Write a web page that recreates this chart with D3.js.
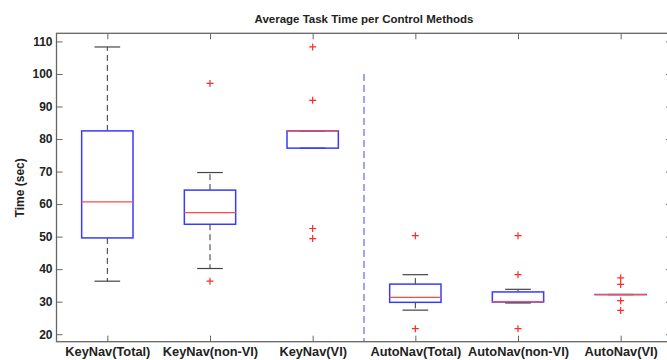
<!DOCTYPE html>
<meta charset="utf-8">
<title>Average Task Time per Control Methods</title>
<style>
body {
  margin: 0;
  background: #fff;
}
text {
  font-family: "Liberation Sans", Arial, sans-serif;
  fill: #222;
}
.axis path, .axis line {
  stroke: #666;
}
.axis text {
  font-size: 12px;
  font-weight: bold;
}
.xaxis text {
  font-size: 12.8px;
}
</style>
<body>
<script src="https://cdn.jsdelivr.net/npm/d3@7/dist/d3.min.js"></script>
<script>

var categories = ["KeyNav(Total)", "KeyNav(non-VI)", "KeyNav(VI)", "AutoNav(Total)", "AutoNav(non-VI)", "AutoNav(VI)"];
var q1 = [49.6, 53.8, 77.2, 29.8, 29.9, 32.2];
var medians = [60.7, 57.4, 82.5, 31.3, 30.0, 32.2];
var q3 = [82.5, 64.3, 82.5, 35.4, 33.0, 32.2];
var whiskerLow = [36.3, 40.2, 77.2, 27.4, 29.6, 32.2];
var whiskerHigh = [108.3, 69.7, 82.5, 38.3, 33.8, 32.2];
var outliers = [[], [97.1, 36.3], [108.3, 91.9, 52.5, 49.4], [50.3, 21.7], [50.3, 38.3, 21.7], [37.3, 35.3, 30.3, 27.3]];
var yTicks = [20, 30, 40, 50, 60, 70, 80, 90, 100, 110];
var separator = {pos: 3.5, from: 17.7, to: 100};

var w = 667,
    h = 360;

var x = d3.scaleLinear().domain([0.5, 6.5]).range([56, 672]);
var y = d3.scaleLinear().domain([17.7, 112.5]).range([341.7, 33.3]);

var svg = d3.select("body").append("svg")
    .attr("width", w)
    .attr("height", h);

// frame
svg.append("rect")
    .attr("x", x(0.5) + 0.5)
    .attr("y", y(112.5))
    .attr("width", x(6.5) - x(0.5))
    .attr("height", y(17.7) - y(112.5))
    .style("fill", "none")
    .style("stroke", "#666")
    .style("stroke-width", 1.3);

var pos = categories.map(function(d, i) { return i + 1; });

svg.append("g")
    .attr("class", "axis")
    .attr("transform", "translate(" + (x(0.5) + 0.5) + ",0)")
    .call(d3.axisLeft(y).tickValues(yTicks).tickSizeInner(-6).tickSizeOuter(0).tickPadding(4))
    .call(function(g) { g.select(".domain").remove(); });

svg.append("g")
    .attr("class", "axis")
    .attr("transform", "translate(" + x(6.5) + ",0)")
    .call(d3.axisRight(y).tickValues(yTicks).tickSizeInner(-6).tickSizeOuter(0).tickFormat(""))
    .call(function(g) { g.select(".domain").remove(); });

svg.append("g")
    .attr("class", "axis xaxis")
    .attr("transform", "translate(0," + y(17.7) + ")")
    .call(d3.axisBottom(x).tickValues(pos).tickSizeInner(-6).tickSizeOuter(0).tickPadding(5)
      .tickFormat(function(d) { return categories[d - 1]; }))
    .call(function(g) { g.select(".domain").remove(); });

svg.append("g")
    .attr("class", "axis")
    .attr("transform", "translate(0," + y(112.5) + ")")
    .call(d3.axisTop(x).tickValues(pos).tickSizeInner(-6).tickSizeOuter(0).tickFormat(""))
    .call(function(g) { g.select(".domain").remove(); });

// separator
svg.append("line")
    .attr("x1", x(separator.pos)).attr("x2", x(separator.pos))
    .attr("y1", y(separator.to)).attr("y2", y(separator.from))
    .style("stroke", "#4444ff")
    .style("stroke-width", 1)
    .style("stroke-dasharray", "7,4");

var bw = x(1.25) - x(1);
var cw = x(1.125) - x(1);

var g = svg.selectAll(".box")
    .data(pos)
  .enter().append("g")
    .attr("class", "box");

// whiskers
g.append("line")
    .attr("x1", function(d) { return x(d); }).attr("x2", function(d) { return x(d); })
    .attr("y1", function(d, i) { return y(q3[i]); })
    .attr("y2", function(d, i) { return y(whiskerHigh[i]); })
    .style("stroke", "#333").style("stroke-dasharray", "6,4");
g.append("line")
    .attr("x1", function(d) { return x(d); }).attr("x2", function(d) { return x(d); })
    .attr("y1", function(d, i) { return y(q1[i]); })
    .attr("y2", function(d, i) { return y(whiskerLow[i]); })
    .style("stroke", "#333").style("stroke-dasharray", "6,4");

[whiskerHigh, whiskerLow].forEach(function(arr) {
  g.append("line")
      .attr("x1", function(d) { return x(d) - cw; })
      .attr("x2", function(d) { return x(d) + cw; })
      .attr("y1", function(d, i) { return y(arr[i]); })
      .attr("y2", function(d, i) { return y(arr[i]); })
      .style("stroke", "#444").style("stroke-width", 1.2);
});

// boxes
g.append("rect")
    .attr("x", function(d) { return x(d) - bw; })
    .attr("y", function(d, i) { return y(q3[i]); })
    .attr("width", 2 * bw)
    .attr("height", function(d, i) { return Math.max(0.01, y(q1[i]) - y(q3[i])); })
    .style("fill", "none")
    .style("stroke", "#3a3aff")
    .style("stroke-width", 1.5);

// medians
g.append("line")
    .attr("x1", function(d) { return x(d) - bw; })
    .attr("x2", function(d) { return x(d) + bw; })
    .attr("y1", function(d, i) { return y(medians[i]); })
    .attr("y2", function(d, i) { return y(medians[i]); })
    .style("stroke", "#ff4a4a")
    .style("stroke-width", 1.3);

// outliers
g.selectAll(".out")
    .data(function(d, i) { return outliers[i].map(function(v) { return {p: d, v: v}; }); })
  .enter().append("path")
    .attr("class", "out")
    .attr("d", function(o) {
      var cx = x(o.p), cy = y(o.v), r = 3.5;
      return "M" + (cx - r) + "," + cy + "H" + (cx + r) + "M" + cx + "," + (cy - r) + "V" + (cy + r);
    })
    .style("stroke", "#ff2a2a")
    .style("stroke-width", 1.2);

// title
svg.append("text")
    .attr("x", x(3.5))
    .attr("y", 23)
    .attr("text-anchor", "middle")
    .style("font-size", "11.5px")
    .style("font-weight", "bold")
    .text("Average Task Time per Control Methods");

// y label
svg.append("text")
    .attr("transform", "translate(24," + y(65) + ")rotate(-90)")
    .attr("text-anchor", "middle")
    .style("font-size", "12px")
    .style("font-weight", "bold")
    .text("Time (sec)");

</script>
